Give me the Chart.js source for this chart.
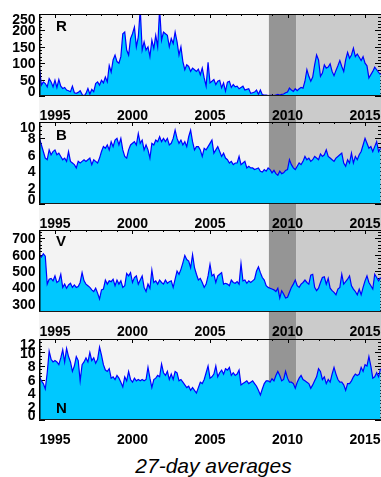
<!DOCTYPE html>
<html><head><meta charset="utf-8">
<script src="https://cdn.jsdelivr.net/npm/chart.js@4.4.0/dist/chart.umd.min.js"></script>
<style>
html,body{margin:0;padding:0;background:#fff;width:381px;height:477px;overflow:hidden;position:relative;}
canvas{position:absolute;left:0;}
#title{position:absolute;left:0;width:427px;top:455px;text-align:center;font:italic 21px 'Liberation Sans',Arial,sans-serif;line-height:21px;color:#000;white-space:nowrap;}
</style></head><body>
<canvas id="c1" width="381" height="122" style="top:0px;width:381px;height:122px"></canvas>
<canvas id="c2" width="381" height="108" style="top:122px;width:381px;height:108px"></canvas>
<canvas id="c3" width="381" height="109" style="top:230px;width:381px;height:109px"></canvas>
<canvas id="c4" width="381" height="108" style="top:339px;width:381px;height:108px"></canvas>
<div id="title">27-day averages</div>
<script>
// ---- data ----
const startYear = 1994, stepYears = 0.125;
const xMin = 1993.97, xMax = 2016.03;
const xTickYears = [1995, 2000, 2005, 2010, 2015];
const bandYears = [2008.8, 2010.55];
const panelLetters = ['R', 'B', 'V', 'N'];
const rTicks = [0, 50, 100, 150, 200, 250];
const bTicks = [0, 2, 4, 6, 8, 10];
const vTicks = [300, 400, 500, 600, 700];
const nTicks = [0, 2, 4, 6, 8, 10, 12];

const rValues = [
 85,33,43,38,28,53,43,28,
 48,26,50,30,23,26,18,16,
 13,30,10,8,11,16,5,0,
 8,23,6,20,13,38,43,33,
 48,40,58,43,93,73,110,125,
 105,100,120,190,195,140,125,175,
 190,210,150,180,265,140,165,140,
 150,120,170,145,185,150,265,170,
 195,190,185,150,175,160,195,165,
 125,150,105,80,95,90,75,85,
 80,75,82,65,85,55,30,103,
 40,45,50,35,45,48,25,40,
 15,42,45,26,35,28,30,22,
 26,30,18,20,22,8,10,12,
 18,5,18,4,3,3,1,2,
 2,1,3,5,3,5,6,10,
 12,24,18,14,22,16,22,26,
 24,45,80,60,45,58,95,125,
 110,60,70,95,85,88,98,75,
 62,78,92,108,90,75,110,133,
 115,125,146,120,128,118,108,120,
 100,92,55,65,75,88,80,72,
 65];
const bValues = [
 8.0,7.2,6.4,5.6,5.4,6.6,6.0,6.4,
 6.6,6.0,6.2,5.8,5.4,5.6,5.2,6.4,
 5.2,5.0,4.8,4.4,5.2,5.0,5.2,5.4,
 5.2,5.4,5.6,4.8,5.4,5.2,5.0,5.6,
 6.4,7.0,6.8,7.2,6.6,7.6,7.0,7.8,
 8.0,7.2,8.0,6.6,5.8,5.6,6.6,7.2,
 7.4,7.6,7.2,8.6,7.4,7.8,6.6,7.2,
 6.6,5.6,7.4,7.2,7.8,7.6,8.2,7.6,
 8.0,7.6,8.0,7.2,7.4,8.0,9.0,8.0,
 7.4,7.8,7.2,7.6,7.0,8.2,9.0,7.6,
 6.6,7.0,7.0,6.6,5.8,6.8,6.6,7.0,
 7.4,7.8,6.2,6.6,7.0,6.4,5.8,6.2,
 5.6,5.4,5.0,5.2,4.8,5.0,5.0,5.8,
 4.8,5.0,5.2,4.4,4.6,4.4,4.4,4.2,
 4.3,4.4,4.0,3.9,4.2,4.0,4.4,4.2,
 3.8,4.1,3.7,3.5,4.0,3.7,3.8,4.1,
 4.2,5.4,4.8,4.4,4.2,4.6,5.0,4.8,
 5.2,5.8,5.4,5.6,5.2,5.4,5.8,5.6,
 5.4,6.1,5.8,6.0,6.6,5.8,5.6,5.4,
 5.2,5.6,5.8,6.0,6.2,5.0,4.6,5.4,
 5.0,6.2,5.0,5.8,5.4,6.0,6.4,7.2,
 8.0,7.4,6.8,7.0,6.4,7.0,7.6,6.4,
 6.8];
const vValues = [
 595,585,605,590,420,450,455,440,
 470,430,440,480,400,420,395,415,
 425,400,415,400,405,430,490,440,
 420,410,400,385,375,395,365,330,
 385,390,445,420,440,435,450,410,
 445,420,440,400,410,485,470,490,
 430,460,470,420,445,470,400,375,
 420,395,505,430,440,420,445,430,
 420,445,425,435,440,400,450,500,
 480,510,550,595,570,560,520,600,
 520,480,445,455,430,400,420,470,
 540,470,480,430,470,480,490,420,
 425,420,410,445,430,425,435,420,
 545,440,445,425,440,430,440,450,
 500,525,490,460,445,410,400,395,
 390,385,375,395,335,380,360,335,
 340,370,400,420,445,410,400,420,
 430,445,430,420,475,480,400,380,
 395,430,460,465,420,455,395,380,
 370,355,390,400,480,420,435,450,
 470,410,390,375,355,390,355,400,
 440,470,430,410,390,480,460,440,
 460];
const nValues = [
 6.4,5.8,5.4,4.6,7.0,10.2,9.0,8.6,
 8.8,8.6,8.2,9.2,10.4,8.6,10.6,9.4,
 8.6,7.2,8.0,9.4,8.8,5.8,8.2,8.6,
 9.2,8.6,10.0,8.8,9.2,8.4,9.0,10.8,
 9.6,8.2,7.4,7.2,7.6,6.2,6.4,6.0,
 6.6,6.2,5.6,4.9,6.4,5.8,7.2,6.0,
 5.6,6.2,5.8,6.0,5.8,6.0,5.8,6.0,
 7.8,6.2,4.8,6.0,6.2,6.6,6.4,8.3,
 7.0,6.6,7.2,6.0,6.8,6.0,7.2,7.0,
 5.8,6.0,5.6,5.2,4.8,5.0,4.4,4.8,
 4.4,4.0,4.8,5.6,5.4,6.0,7.0,8.0,
 6.2,6.4,6.8,8.0,6.4,7.0,7.4,6.8,
 7.6,7.4,7.8,6.6,7.0,6.6,6.8,7.4,
 5.2,5.4,5.6,5.8,5.4,5.6,5.8,5.4,
 5.0,4.4,3.7,4.6,5.4,5.8,5.8,5.6,
 6.1,5.8,6.6,7.2,6.6,5.8,6.0,7.2,
 6.2,5.6,5.6,5.4,4.7,5.6,6.2,6.6,
 6.0,5.8,5.6,5.4,4.7,5.2,5.8,6.4,
 7.6,7.2,6.0,6.4,5.4,6.0,5.6,6.8,
 7.8,6.8,6.0,5.6,5.6,5.2,4.4,5.4,
 5.4,5.8,6.4,6.8,6.6,6.8,7.8,7.2,
 8.2,8.0,9.4,8.0,6.2,6.4,7.0,6.4,
 7.6];

// ---- styling / layout ----
const FONT = "'Liberation Sans', Arial, Helvetica, sans-serif";
const panels = [
  {id:'c1', values:rValues, letter:panelLetters[0], yMin:0, yMax:250, ticks:rTicks, minor:10, padTop:14, xH:26, extend:true, letterAt:'top', letterDy:17},
  {id:'c2', values:bValues, letter:panelLetters[1], yMin:0, yMax:10, ticks:bTicks, minor:0.5, padTop:0, xH:26, extend:true, letterAt:'top', letterDy:18},
  {id:'c3', values:vValues, letter:panelLetters[2], yMin:250, yMax:750, ticks:vTicks, minor:20, padTop:0, xH:27, extend:true, letterAt:'top', letterDy:16},
  {id:'c4', values:nValues, letter:panelLetters[3], yMin:0, yMax:12, ticks:nTicks, minor:0.5, padTop:0, xH:27, extend:false, letterAt:'bottom', letterDy:-7.5}
];

const panelPlugin = {
  id: 'panel',
  beforeDraw(chart, args, o) {
    const ctx = chart.ctx, a = chart.chartArea, x = chart.scales.x;
    const bottom = o.extend ? chart.height : a.bottom;
    const e1 = x.getPixelForValue(bandYears[0]), e2 = x.getPixelForValue(bandYears[1]);
    ctx.save();
    ctx.fillStyle = '#f3f3f3'; ctx.fillRect(a.left, a.top, e1 - a.left, bottom - a.top);
    ctx.fillStyle = '#959595'; ctx.fillRect(e1, a.top, e2 - e1, bottom - a.top);
    ctx.fillStyle = '#cbcbcb'; ctx.fillRect(e2, a.top, a.right - e2, bottom - a.top);
    ctx.restore();
  },
  beforeDatasetsDraw(chart, args, o) {
    const ctx = chart.ctx, a = chart.chartArea, x = chart.scales.x, y = chart.scales.y;
    ctx.save();
    ctx.strokeStyle = '#000'; ctx.lineWidth = 1;
    ctx.beginPath();
    const k0 = Math.ceil(o.yMin / o.minor - 1e-9), k1 = Math.floor(o.yMax / o.minor + 1e-9);
    for (let k = k0; k <= k1; k++) {
      const py = Math.round(y.getPixelForValue(k * o.minor)) + 0.5;
      ctx.moveTo(a.left, py); ctx.lineTo(a.left + 3, py);
      ctx.moveTo(a.right, py); ctx.lineTo(a.right - 3, py);
    }
    o.ticks.forEach(v => {
      const py = Math.round(y.getPixelForValue(v)) + 0.5;
      ctx.moveTo(a.left, py); ctx.lineTo(a.left + 6, py);
      ctx.moveTo(a.right, py); ctx.lineTo(a.right - 6, py);
    });
    for (let yr = Math.ceil(xMin); yr <= Math.floor(xMax); yr++) {
      const px = Math.round(x.getPixelForValue(yr)) + 0.5;
      ctx.moveTo(px, a.top); ctx.lineTo(px, a.top + 2);
      ctx.moveTo(px, a.bottom); ctx.lineTo(px, a.bottom - 2);
    }
    xTickYears.forEach(yr => {
      const px = Math.round(x.getPixelForValue(yr)) + 0.5;
      ctx.moveTo(px, a.top); ctx.lineTo(px, a.top + 4);
      ctx.moveTo(px, a.bottom); ctx.lineTo(px, a.bottom - 4);
    });
    ctx.stroke();
    ctx.restore();
  },
  afterDatasetsDraw(chart, args, o) {
    const ctx = chart.ctx, a = chart.chartArea, y = chart.scales.y;
    ctx.save();
    ctx.strokeStyle = '#000'; ctx.lineWidth = 1;
    ctx.beginPath();
    ctx.moveTo(a.left, a.top + 0.5); ctx.lineTo(a.right, a.top + 0.5);
    ctx.stroke();
    ctx.lineWidth = 1.5;
    ctx.beginPath();
    ctx.moveTo(a.left + 0.75, a.top); ctx.lineTo(a.left + 0.75, a.bottom);
    ctx.stroke();
    ctx.strokeStyle = '#1a1a1a'; ctx.lineWidth = 1;
    ctx.beginPath();
    ctx.moveTo(a.left, a.bottom - 0.5); ctx.lineTo(a.right, a.bottom - 0.5);
    ctx.stroke();
    ctx.fillStyle = '#000';
    ctx.font = 'bold 14px ' + FONT;
    ctx.textAlign = 'right'; ctx.textBaseline = 'alphabetic';
    o.ticks.forEach(v => {
      let cy = y.getPixelForValue(v);
      cy = Math.max(a.top + 5, Math.min(a.bottom - 5, cy));
      ctx.fillText(String(v), a.left - 3.5, cy + 5);
    });
    ctx.textAlign = 'left';
    ctx.font = 'bold 15px ' + FONT;
    const ly = o.letterAt === 'top' ? a.top + o.letterDy : a.bottom + o.letterDy;
    ctx.fillText(o.letter, a.left + 17, ly);
    ctx.restore();
  }
};

panels.forEach(p => {
  const pts = p.values.map((v, i) => ({x: startYear + i * stepYears, y: v}));
  new Chart(document.getElementById(p.id), {
    type: 'line',
    data: { datasets: [{
      data: pts, borderColor: '#0000ff', borderWidth: 1.2,
      backgroundColor: '#00c8ff', fill: 'start',
      pointRadius: 0, pointHoverRadius: 0, tension: 0
    }]},
    options: {
      responsive: false, animation: false, devicePixelRatio: 1,
      events: [],
      layout: { padding: { left: 39, top: p.padTop, right: 0, bottom: 0 } },
      plugins: {
        legend: { display: false }, tooltip: { enabled: false },
        panel: { extend: p.extend, ticks: p.ticks, minor: p.minor, yMin: p.yMin, yMax: p.yMax,
                 letter: p.letter, letterAt: p.letterAt, letterDy: p.letterDy }
      },
      scales: {
        x: {
          type: 'linear', min: xMin, max: xMax, position: 'bottom',
          grid: { display: false, drawTicks: false }, border: { display: false },
          afterBuildTicks: s => { s.ticks = xTickYears.map(v => ({ value: v })); },
          afterFit: s => { s.height = p.xH; s.paddingLeft = 0; s.paddingRight = 0; },
          ticks: { autoSkip: false, maxRotation: 0, minRotation: 0, padding: 12, color: '#000',
                   font: { family: FONT, size: 14, weight: 'bold' }, callback: v => String(v) }
        },
        y: { type: 'linear', min: p.yMin, max: p.yMax, display: false }
      }
    },
    plugins: [panelPlugin]
  });
});
</script>
</body></html>
